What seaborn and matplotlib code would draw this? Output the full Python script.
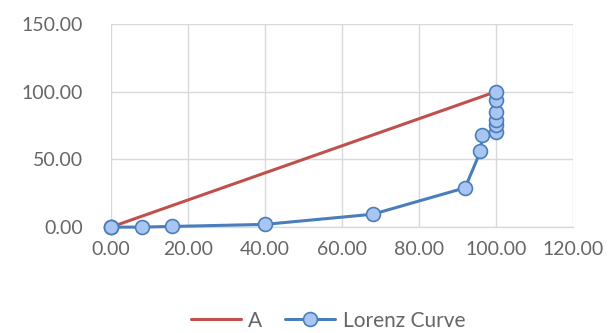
import matplotlib
matplotlib.use("Agg")
import matplotlib.pyplot as plt
import seaborn as sns
import pandas as pd

# Cumulative share of population (%) and cumulative share of income (%)
pop_share = [0.0, 0.0, 0.0, 8.0, 16.0, 40.0, 68.0, 92.0, 96.0, 96.5,
             100.0, 100.0, 100.0, 100.0, 100.0, 100.0]
income_share = [0.0, 0.0, 0.0, 0.0, 0.5, 2.0, 9.5, 29.0, 56.0, 68.0,
                70.5, 75.5, 79.0, 85.0, 94.0, 100.0]

# Line of perfect equality
equality_x = [0.0, 100.0]
equality_y = [0.0, 100.0]

x_ticks = [0, 20, 40, 60, 80, 100, 120]
y_ticks = [0, 50, 100, 150]

sns.set_theme(style="white")
plt.rcParams["font.family"] = ["Lato", "DejaVu Sans"]

fig = plt.figure(figsize=(6.16, 3.33), dpi=100)
ax = fig.add_axes([0.180, 0.318, 0.750, 0.610])

eq_df = pd.DataFrame({"x": equality_x, "y": equality_y})
lz_df = pd.DataFrame({"x": pop_share, "y": income_share})

sns.lineplot(data=eq_df, x="x", y="y", ax=ax, color="#C0504D", linewidth=2.2,
             label="A", sort=False, estimator=None, zorder=3)
sns.lineplot(data=lz_df, x="x", y="y", ax=ax, color="#4A7EBB", linewidth=2.2,
             marker="o", markersize=10, markerfacecolor="#A9C6F2",
             markeredgecolor="#4A7EBB", markeredgewidth=1.2,
             label="Lorenz Curve", sort=False, estimator=None, zorder=4)

ax.set_xlim(0, 120)
ax.set_ylim(0, 150)
ax.set_xticks(x_ticks)
ax.set_yticks(y_ticks)
ax.set_xticklabels([f"{v:.2f}" for v in x_ticks])
ax.set_yticklabels([f"{v:.2f}" for v in y_ticks])
ax.set_xlabel("")
ax.set_ylabel("")

ax.grid(True, color="#D9D9D9", linewidth=1.0)
ax.set_axisbelow(True)
for side in ["top", "right", "left"]:
    ax.spines[side].set_visible(False)
ax.spines["bottom"].set_color("#D9D9D9")
ax.spines["bottom"].set_linewidth(1.0)
for sp in ax.spines.values():
    sp.set_zorder(0)

ax.tick_params(axis="x", length=0, labelsize=14, colors="#666666", pad=10)
ax.tick_params(axis="y", length=0, labelsize=14, colors="#666666", pad=20)

leg = ax.legend(loc="center", bbox_to_anchor=(0.47, -0.46), ncol=2, frameon=False,
                fontsize=15, handlelength=2.4, columnspacing=1.1, handletextpad=0.35)
for t in leg.get_texts():
    t.set_color("#666666")

for art in ax.lines:
    art.set_clip_on(False)

fig.savefig("out.png", dpi=100)
